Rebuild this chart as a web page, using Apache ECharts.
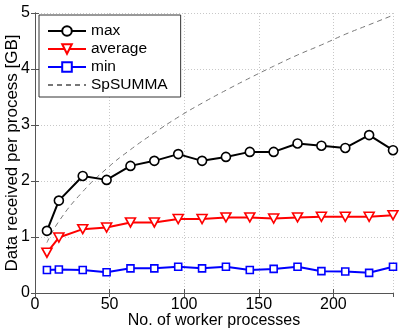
<!DOCTYPE html>
<html><head><meta charset="utf-8">
<script src="https://cdn.jsdelivr.net/npm/echarts@6/dist/echarts.min.js"></script>
<style>html,body{margin:0;padding:0;background:#fff}#c{width:399px;height:332px}</style>
</head><body><div id="c"></div>
<script>
const workers = [8,16,32,48,64,80,96,112,128,144,160,176,192,208,224,240];
const maxVals = [1.11,1.65,2.09,2.02,2.27,2.36,2.48,2.36,2.43,2.52,2.52,2.67,2.63,2.59,2.82,2.55];
const avgVals = [0.72,0.99,1.14,1.17,1.26,1.26,1.32,1.32,1.35,1.35,1.33,1.35,1.36,1.36,1.36,1.39];
const minVals = [0.41,0.42,0.41,0.37,0.44,0.44,0.47,0.44,0.47,0.41,0.43,0.47,0.39,0.385,0.36,0.47];
const spsummaVals = [0.9,1.28,1.81,2.22,2.56,2.86,3.14,3.39,3.62,3.84,4.05,4.25,4.43,4.62,4.79,4.96];
const seriesNames = ['max','average','min','SpSUMMA'];

const pair = (ys) => workers.map((x,i)=>[x,ys[i]]);
const font = 'Liberation Sans, Arial, sans-serif';
const chart = echarts.init(document.getElementById('c'));
const axisLine = {show:true, lineStyle:{color:'#555', width:1}};
const gridLine = {show:true, lineStyle:{color:'#c8c8c8', type:[1,2], width:1}};
chart.setOption({
  animation:false,
  grid:{left:35, right:6, top:13, bottom:39, outerBoundsMode:'none', containLabel:false},
  legend:{
    left:39, top:15, orient:'vertical', itemWidth:38, itemHeight:12, itemGap:2,
    padding:[8,13,4,8],
    backgroundColor:'#fff', borderColor:'#333', borderWidth:1,
    textStyle:{fontFamily:font, fontSize:15.5, color:'#000'},
    data:[
      {name:seriesNames[0]},
      {name:seriesNames[1]},
      {name:seriesNames[2]},
      {name:seriesNames[3], itemStyle:{opacity:0}}
    ]
  },
  xAxis:[{
    type:'value', min:0, max:240, interval:50,
    name:'No. of worker processes', nameLocation:'middle', nameGap:20, nameMoveOverlap:false,
    nameTextStyle:{fontFamily:font, fontSize:16, color:'#000'},
    axisLine:axisLine, axisTick:{inside:true, length:4, lineStyle:{color:'#555'}},
    axisLabel:{fontFamily:font, fontSize:16, color:'#000', margin:4, showMaxLabel:false},
    splitLine:gridLine
  },{
    type:'value', min:0, max:240, interval:50, position:'top',
    axisLine:axisLine, axisTick:{inside:true, length:4, lineStyle:{color:'#555'}},
    axisLabel:{show:false}, splitLine:{show:false}
  }],
  yAxis:[{
    type:'value', min:0, max:5, interval:1,
    name:'Data received per process [GB]', nameLocation:'middle', nameGap:14, nameMoveOverlap:false,
    nameTextStyle:{fontFamily:font, fontSize:17, color:'#000'},
    axisLine:axisLine, axisTick:{inside:true, length:4, lineStyle:{color:'#555'}},
    axisLabel:{fontFamily:font, fontSize:16, color:'#000', margin:5},
    splitLine:gridLine
  },{
    type:'value', min:0, max:5, interval:1, position:'right',
    axisLine:axisLine, axisTick:{inside:true, length:4, lineStyle:{color:'#555'}},
    axisLabel:{show:false}, splitLine:{show:false}
  }],
  series:[
    {name:seriesNames[0], type:'line', data:pair(maxVals), symbol:'circle', symbolSize:9,
     showAllSymbol:true,
     lineStyle:{color:'#000', width:2}, itemStyle:{color:'#fff', borderColor:'#000', borderWidth:1.6}, z:4},
    {name:seriesNames[1], type:'line', data:pair(avgVals), symbol:'path://M0,0 L10,0 L5,9 Z', symbolSize:[10,9],
     lineStyle:{color:'#ff0000', width:2}, itemStyle:{color:'#fff', borderColor:'#ff0000', borderWidth:1.6}, z:4},
    {name:seriesNames[2], type:'line', data:pair(minVals), symbol:'rect', symbolSize:7,
     lineStyle:{color:'#0000ff', width:2}, itemStyle:{color:'#fff', borderColor:'#0000ff', borderWidth:1.6}, z:4},
    {name:seriesNames[3], type:'line', data:pair(spsummaVals), symbol:'none', smooth:true,
     lineStyle:{color:'#777', width:1, type:[5,4]}, itemStyle:{color:'#777'}, z:3}
  ]
});
</script></body></html>
